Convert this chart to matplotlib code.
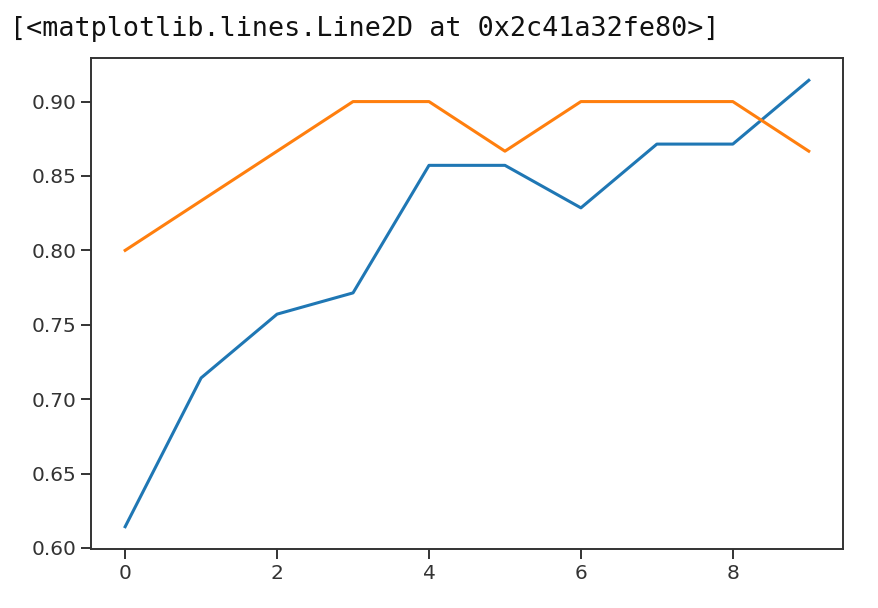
import matplotlib
matplotlib.use("Agg")
import matplotlib.pyplot as plt

epochs = list(range(10))
train_acc = [43/70, 50/70, 53/70, 54/70, 60/70, 60/70, 58/70, 61/70, 61/70, 64/70]
val_acc = [24/30, 25/30, 26/30, 27/30, 27/30, 26/30, 27/30, 27/30, 27/30, 26/30]

fig = plt.figure(figsize=(8.79, 6.08), dpi=100)
ax = fig.add_axes([0.1035, 0.097, 0.959 - 0.1035, 0.9046 - 0.097])

ax.plot(epochs, train_acc, color="#1f77b4", lw=2.2)
ax.plot(epochs, val_acc, color="#ff7f0e", lw=2.2)

ax.set_xticks([0, 2, 4, 6, 8])
ax.set_yticks([0.60, 0.65, 0.70, 0.75, 0.80, 0.85, 0.90])
ax.set_yticklabels(["%.2f" % v for v in ax.get_yticks()])
ax.tick_params(labelsize=14.5, length=7, width=1.4, colors="#333333", labelcolor="#333333")
for s in ax.spines.values():
    s.set_linewidth(1.4)
    s.set_color("#333333")

fig.text(0.011, 0.953, "[<matplotlib.lines.Line2D at 0x2c41a32fe80>]",
         family="DejaVu Sans Mono", fontsize=19.3, va="center", ha="left", color="#111111")

fig.savefig("out.png", dpi=100)
